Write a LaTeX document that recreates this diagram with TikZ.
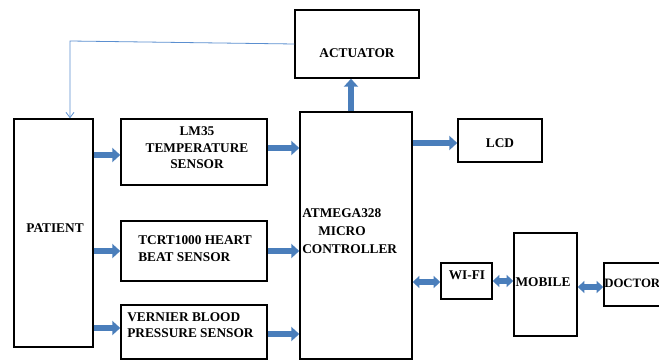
\documentclass[tikz,border=0pt]{standalone}
\usepackage{fontspec}
\setmainfont{Liberation Serif}
\usetikzlibrary{arrows.meta}
\definecolor{arrblue}{HTML}{4A7EBB}
\definecolor{fbblue}{HTML}{5B8FD0}
\tikzset{
  box/.style={draw=black, line width=1.1pt, fill=white, inner sep=0pt},
  txt/.style={font=\fontsize{10}{12.4}\selectfont\bfseries, inner sep=0pt, align=center},
  barrow/.style={draw=arrblue, line width=4.5pt, -{Triangle[length=6pt,width=10.5pt]}},
  darrow/.style={draw=arrblue, line width=4pt, {Triangle[length=5pt,width=9pt]}-{Triangle[length=5pt,width=9pt]}},
  fbline/.style={draw=fbblue, line width=0.6pt, -{Straight Barb[length=4pt,width=6pt]}}
}
\begin{document}
\begin{tikzpicture}[x=0.75pt,y=-0.75pt]
\useasboundingbox (0,0) rectangle (659,360);
% boxes
\node[box, minimum width=93pt, minimum height=51pt] (act) at (357,44) {};
\node[box, minimum width=59.25pt, minimum height=171pt] (pat) at (53.5,233) {};
\node[box, minimum width=109.5pt, minimum height=49.5pt] (lm) at (194,152) {};
\node[box, minimum width=109.5pt, minimum height=45pt] (tc) at (194,251) {};
\node[box, minimum width=109.5pt, minimum height=40.5pt] (vb) at (194,332) {};
\node[box, minimum width=84pt, minimum height=185.25pt] (mc) at (356,235.5) {};
\node[box, minimum width=63pt, minimum height=32.25pt] (lcd) at (500,140.5) {};
\node[box, minimum width=38.25pt, minimum height=27pt] (wifi) at (466.5,281) {};
\node[box, minimum width=47.25pt, minimum height=77.25pt] (mob) at (545.5,284.5) {};
\node[box, minimum width=49.5pt, minimum height=32.25pt] (doc) at (637,284.5) {};
% texts
\node[txt] (actT) at (357,53) {ACTUATOR};
\node[txt] (patT) at (55,228) {PATIENT};
\node[txt] (lmT) at (197,148) {LM35\\TEMPERATURE\\SENSOR};
\node[txt, anchor=west, align=left] (tcT) at (138,248.5) {TCRT1000 HEART\\BEAT SENSOR};
\node[txt, anchor=west, align=left] (vbT) at (127,325) {VERNIER BLOOD\\PRESSURE SENSOR};
\node[txt, anchor=west, align=left, font=\fontsize{10}{13.5}\selectfont\bfseries] (mcT) at (302,231) {ATMEGA328\\\hspace{12pt}MICRO\\CONTROLLER};
\node[txt] (lcdT) at (500,143) {LCD};
\node[txt] (wifiT) at (467,275.5) {WI-FI};
\node[txt] (mobT) at (543,282) {MOBILE};
\node[txt, anchor=west, font=\fontsize{9.6}{12}\selectfont\bfseries] (docT) at (604,283) {DOCTOR};
% row coordinates
\coordinate (y155) at (0,155);
\coordinate (y148) at (0,148);
\coordinate (y143) at (0,143);
\coordinate (y251) at (0,251);
\coordinate (y328) at (0,328);
\coordinate (y334) at (0,334);
\coordinate (y282) at (0,282);
\coordinate (y281) at (0,281);
\coordinate (y287) at (0,287);
\coordinate (x351) at (351,0);
\coordinate (fb) at (70,41);
% block arrows
\draw[barrow] (pat.east |- y155) -- (lm.west |- y155);
\draw[barrow] (lm.east |- y148) -- (mc.west |- y148);
\draw[barrow] (mc.north -| x351) -- (act.south -| x351);
\draw[barrow] (mc.east |- y143) -- (lcd.west |- y143);
\draw[barrow] (pat.east |- y251) -- (tc.west |- y251);
\draw[barrow] (tc.east |- y251) -- (mc.west |- y251);
\draw[barrow] (pat.east |- y328) -- (vb.west |- y328);
\draw[barrow] (vb.east |- y334) -- (mc.west |- y334);
\draw[darrow] (mc.east |- y282) -- (wifi.west |- y282);
\draw[darrow] (wifi.east |- y281) -- (mob.west |- y281);
\draw[darrow] (mob.east |- y287) -- (doc.west |- y287);
% feedback line
\draw[fbline] (act.west) -- (fb) -- (fb |- pat.north);
\end{tikzpicture}
\end{document}
